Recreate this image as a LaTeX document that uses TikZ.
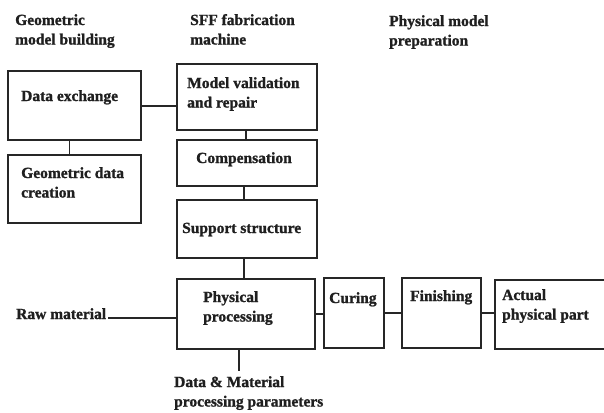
\documentclass[tikz,border=0pt]{standalone}
\usepackage{fontspec}
\setmainfont{Liberation Serif}[BoldFeatures={FakeBold=1.2}]
\newcommand{\twoline}[2]{\vtop{\baselineskip=19.5bp\hbox{#1}\hbox{#2}}}
\begin{document}
\begin{tikzpicture}[x=1bp,y=-1bp,
  ink/.style={draw=black!85, line width=1.8bp},
  stage/.style={ink, rectangle, inner sep=0pt, anchor=north west},
  lbl/.style={anchor=base west, inner sep=0pt, text=black!88,
    font=\fontsize{15.5bp}{19.5bp}\selectfont\bfseries},
  wire/.style={ink}]
  \useasboundingbox (0,0) rectangle (604,412);
  \clip (0,0) rectangle (604,412);

  % column headings
  \node[lbl] (hgeo) at (15,25) {\twoline{Geometric}{model building}};
  \node[lbl] (hsff) at (190,25) {\twoline{SFF fabrication}{machine}};
  \node[lbl] (hphy) at (389,26) {\twoline{Physical model}{preparation}};

  % process boxes
  \node[stage, minimum width=133bp, minimum height=69bp] (dx) at (7,70) {};
  \node[stage, minimum width=133bp, minimum height=68bp] (gd) at (7,154) {};
  \node[stage, minimum width=140bp, minimum height=66bp] (mv) at (176,63) {};
  \node[stage, minimum width=140bp, minimum height=46bp] (cp) at (176,139) {};
  \node[stage, minimum width=140bp, minimum height=58bp] (ss) at (176,199) {};
  \node[stage, minimum width=138bp, minimum height=70bp] (pp) at (176,278) {};
  \node[stage, minimum width=60bp, minimum height=70bp] (cu) at (323,277) {};
  \node[stage, minimum width=79bp, minimum height=70bp] (fi) at (401,277) {};
  \node[stage, minimum width=120bp, minimum height=69bp] (ap) at (494,279) {};

  % box texts
  \node[lbl] (tdx) at (21,101) {Data exchange};
  \node[lbl] (tgd) at (21,178) {\twoline{Geometric data}{creation}};
  \node[lbl] (tmv) at (187,88) {\twoline{Model validation}{and repair}};
  \node[lbl] (tcp) at (196,163) {Compensation};
  \node[lbl] (tss) at (182,233) {Support structure};
  \node[lbl] (tpp) at (203,302) {\twoline{Physical}{processing}};
  \node[lbl] (tcu) at (329,303) {Curing};
  \node[lbl] (tfi) at (410,301) {Finishing};
  \node[lbl] (tap) at (502,300) {\twoline{Actual}{physical part}};

  % external inputs
  \node[lbl] (raw) at (16,319) {Raw material};
  \coordinate (pend) at (239,371);
  \node[lbl] (par) at (174,387) {\twoline{Data \& Material}{processing parameters}};

  % connectors
  \draw[wire] ([yshift=-0.5bp]dx.east) -- ([yshift=-0.5bp]dx.east -| mv.west);
  \draw[wire] ([xshift=-5bp]dx.south) -- ([xshift=-5bp]dx.south |- gd.north);
  \draw[wire] ([xshift=-1bp]mv.south) -- ([xshift=-1bp]mv.south |- cp.north);
  \draw[wire] ([xshift=-3bp]cp.south) -- ([xshift=-3bp]cp.south |- ss.north);
  \draw[wire] ([xshift=-3bp]ss.south) -- ([xshift=-3bp]ss.south |- pp.north);
  \draw[wire] (pp.east) -- (pp.east -| cu.west);
  \draw[wire] (cu.east) -- (cu.east -| fi.west);
  \draw[wire] (fi.east) -- (fi.east -| ap.west);
  \draw[wire] ([xshift=2bp,yshift=-4bp]raw.east) -- ([yshift=-4bp]raw.east -| pp.west);
  \draw[wire] (pp.south -| pend) -- (pend);
\end{tikzpicture}
\end{document}
